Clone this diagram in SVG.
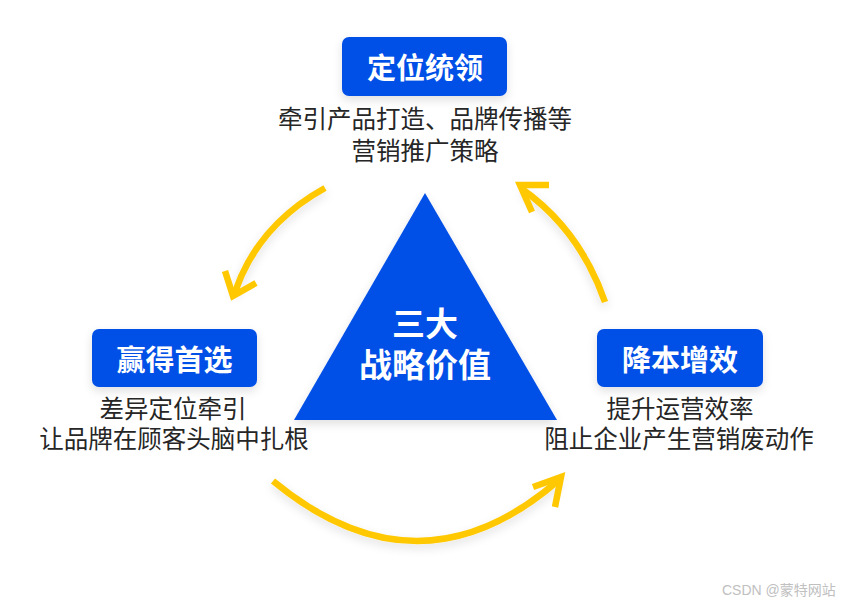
<svg xmlns="http://www.w3.org/2000/svg" width="854" height="605" viewBox="0 0 854 605">
<defs>
<filter id="sh" x="-30%" y="-30%" width="160%" height="170%">
<feDropShadow dx="0" dy="4" stdDeviation="5" flood-color="#000" flood-opacity="0.12"/>
</filter>
<style>
.box{fill:#0050E6;filter:url(#sh)}
.title{font-family:"Noto Sans CJK SC","Noto Sans",sans-serif;font-weight:bold;font-size:29px;fill:#fff;text-anchor:middle}
.desc{font-family:"Noto Sans CJK SC","Noto Sans",sans-serif;font-size:24.5px;fill:#262626;text-anchor:middle}
.arc{fill:none;stroke:#FFC800;stroke-width:6.5;filter:url(#sh)}
.head{fill:none;stroke:#FFC800;stroke-width:6.5;stroke-linejoin:miter}
.center{font-family:"Noto Sans CJK SC","Noto Sans",sans-serif;font-weight:bold;font-size:33px;fill:#fff;text-anchor:middle}
</style>
</defs>
<rect width="854" height="605" fill="#fff"/>
<g id="triangle">
<polygon points="425,193 557,420 294,420" fill="#0050E6" filter="url(#sh)"/>
<text class="center" x="425" y="336">三大</text>
<text class="center" x="425" y="377">战略价值</text>
</g>
<g id="node-top">
<rect class="box" x="342" y="37" width="165" height="59" rx="7"/>
<text class="title" x="425" y="79">定位统领</text>
<text class="desc" x="425" y="128">牵引产品打造、品牌传播等</text>
<text class="desc" x="425" y="160">营销推广策略</text>
</g>
<g id="node-left">
<rect class="box" x="92" y="329" width="165" height="58" rx="7"/>
<text class="title" x="174.5" y="371">赢得首选</text>
<text class="desc" x="173" y="418">差异定位牵引</text>
<text class="desc" x="174" y="448">让品牌在顾客头脑中扎根</text>
</g>
<g id="node-right">
<rect class="box" x="597" y="329" width="166" height="58" rx="7"/>
<text class="title" x="680" y="371">降本增效</text>
<text class="desc" x="680" y="418">提升运营效率</text>
<text class="desc" x="679" y="448">阻止企业产生营销废动作</text>
</g>
<g id="connectors">
<path class="arc" d="M325,188 Q258,225 235,292"/>
<polyline class="head" points="225,271 233,296 256,283"/>
<path class="arc" d="M605,302 Q580,230 522,189"/>
<polyline class="head" points="549,185 520,185 532,212"/>
<path class="arc" d="M273,481 Q420,602 560,479"/>
<polyline class="head" points="533,487 561,477 555,507"/>
</g>
<text x="722" y="595" font-family="Liberation Sans,'Noto Sans CJK SC',sans-serif" font-size="14" fill="#c0c0c0">CSDN @蒙特网站</text>
</svg>
